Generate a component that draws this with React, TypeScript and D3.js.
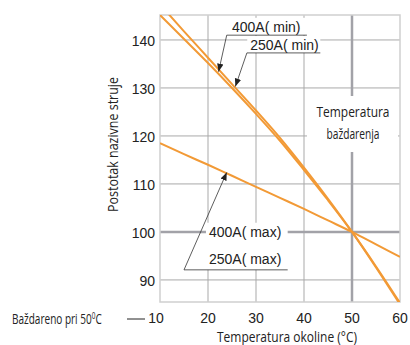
import React, { useEffect, useRef } from 'react';
import * as d3 from 'd3';

// ambient temperature (°C)
const temps = [10, 15, 20, 25, 30, 35, 40, 45, 50, 55, 60];
// percent of rated current
const min400 = [145.2, 140.2, 135.2, 130.0, 124.6, 119.0, 112.9, 106.6, 100, 92.8, 85.2];
const min250 = [147.4, 141.8, 136.3, 130.8, 125.3, 119.6, 113.4, 106.9, 100, 92.6, 84.9];
const maxBoth = [118.5, 116.2, 114.0, 111.7, 109.4, 107.1, 104.8, 102.4, 100, 97.4, 94.8];

const xTicks = [10, 20, 30, 40, 50, 60];
const yTicks = [90, 100, 110, 120, 130, 140];

// callouts, in data units: text anchor, underline (x1, x2, y), arrow tip
const callouts = [
  { text: ['400A( min)'], at: [25.0, 141.7], under: [23.9, 40.6, 141.0], tip: [22.2, 133.4] },
  { text: ['250A( min)'], at: [28.8, 137.9], under: [28.1, 43.4, 137.3], tip: [25.7, 130.3] },
  { text: ['400A( max)', '250A( max)'], at: [20.2, 99.0], under: [15.0, 36.6, 92.1], tip: [23.9, 112.4] },
];

const ORANGE = '#f29a36';
const NARROW = '"Open Sans", "Noto Sans", sans-serif';
const SANS = '"Liberation Sans", Arial, sans-serif';

const App: React.FC = () => {
  const svgRef = useRef<SVGSVGElement>(null);
  const width = 410;
  const height = 345;

  useEffect(() => {
    if (!svgRef.current) return;
    const svg = d3.select(svgRef.current);
    svg.selectAll('*').remove();

    const left = 160, right = 400, top = 15, bottom = 302;

    const x = d3.scaleLinear().domain([10, 60]).range([left, right]);
    const y = d3.scaleLinear().domain([85.4, 145.2]).range([bottom, top]);

    const defs = svg.append('defs');
    defs.append('clipPath').attr('id', 'plot-clip')
      .append('rect')
      .attr('x', left).attr('y', top)
      .attr('width', right - left).attr('height', bottom - top);
    defs.append('marker')
      .attr('id', 'arrow')
      .attr('markerUnits', 'userSpaceOnUse')
      .attr('viewBox', '0 0 10 10')
      .attr('refX', 10).attr('refY', 5)
      .attr('markerWidth', 8).attr('markerHeight', 8)
      .attr('orient', 'auto')
      .append('path')
      .attr('d', 'M0,1 L10,5 L0,9 z')
      .attr('fill', '#222');

    // condensed labels: squeeze a normal face to the width seen in the chart
    const narrowText = (g: d3.Selection<any, unknown, null, undefined>, s: string, len: number, size = 15) =>
      g.append('text')
        .attr('textLength', len)
        .attr('lengthAdjust', 'spacingAndGlyphs')
        .style('font-family', NARROW)
        .style('font-size', `${size}px`)
        .style('fill', '#222')
        .text(s);

    // grid
    const grid = svg.append('g');
    grid.selectAll('.vg')
      .data(xTicks.filter(d => d > 10 && d < 60 && d !== 50))
      .enter().append('line')
      .attr('x1', d => x(d)).attr('x2', d => x(d))
      .attr('y1', top).attr('y2', bottom)
      .attr('stroke', '#a9a9a9').attr('stroke-width', 1);
    grid.selectAll('.hg')
      .data(yTicks.filter(d => d !== 100))
      .enter().append('line')
      .attr('x1', left).attr('x2', right)
      .attr('y1', d => y(d)).attr('y2', d => y(d))
      .attr('stroke', '#a9a9a9').attr('stroke-width', 1);

    // calibration reference lines
    grid.append('line')
      .attr('x1', x(50)).attr('x2', x(50))
      .attr('y1', top).attr('y2', bottom)
      .attr('stroke', '#a2a2a8').attr('stroke-width', 2.5);
    grid.append('line')
      .attr('x1', left).attr('x2', right)
      .attr('y1', y(100)).attr('y2', y(100))
      .attr('stroke', '#a2a2a8').attr('stroke-width', 2.5);

    // frame
    svg.append('rect')
      .attr('x', left).attr('y', top)
      .attr('width', right - left).attr('height', bottom - top)
      .attr('fill', 'none')
      .attr('stroke', '#cfcfcf').attr('stroke-width', 1.5);

    // y tick labels
    svg.append('g').selectAll('text')
      .data(yTicks)
      .enter().append('text')
      .attr('x', left - 5)
      .attr('y', d => y(d))
      .attr('dy', '0.42em')
      .attr('text-anchor', 'end')
      .style('font-family', SANS)
      .style('font-size', '14px')
      .style('fill', '#222')
      .text(d => d);

    // x tick labels
    svg.append('g').selectAll('text')
      .data(xTicks)
      .enter().append('text')
      .attr('x', (d, i) => x(d) + (i === 0 ? -4 : 0))
      .attr('y', bottom + 21)
      .attr('text-anchor', 'middle')
      .style('font-family', SANS)
      .style('font-size', '14px')
      .style('fill', '#222')
      .text(d => d);

    // axis titles
    narrowText(svg, 'Postotak nazivne struje', 135)
      .attr('transform', `translate(118, ${(top + bottom) / 2 - 14}) rotate(-90)`)
      .attr('x', -67.5);

    narrowText(svg, 'Temperatura okoline (°C)', 140)
      .attr('x', 217)
      .attr('y', 342);

    // calibration note, one text squeezed as a whole
    const note = svg.append('text')
      .style('font-family', NARROW)
      .style('font-size', '14px')
      .style('fill', '#222');
    note.append('tspan').text('Baždareno pri 50');
    note.append('tspan').attr('dy', -5).style('font-size', '9px').text('0');
    note.append('tspan').attr('dy', 5).text('C');
    const nw = (note.node() as SVGTextElement).getBBox().width;
    note.attr('transform', `translate(12, ${bottom + 22}) scale(${90 / nw}, 1)`);
    svg.append('line')
      .attr('x1', left - 33).attr('x2', left - 15)
      .attr('y1', bottom + 17).attr('y2', bottom + 17)
      .attr('stroke', '#222').attr('stroke-width', 1);

    // calibration temperature label with white backing
    const calib = svg.append('g');
    calib.append('rect')
      .attr('x', x(50) - 45).attr('y', 96)
      .attr('width', 91).attr('height', 56)
      .attr('fill', '#fff');
    narrowText(calib, 'Temperatura', 73).attr('x', x(50) + 1 - 36.5).attr('y', 117);
    narrowText(calib, 'baždarenja', 53).attr('x', x(50) + 1 - 26.5).attr('y', 139);

    // curves
    const line = d3.line<number>()
      .x((_, i) => x(temps[i]))
      .y(d => y(d))
      .curve(d3.curveMonotoneX);

    const curves = svg.append('g').attr('clip-path', 'url(#plot-clip)');
    [min400, min250, maxBoth].forEach(series => {
      curves.append('path')
        .datum(series)
        .attr('fill', 'none')
        .attr('stroke', ORANGE)
        .attr('stroke-width', 2)
        .attr('d', line);
    });

    // callouts
    callouts.forEach(c => {
      const g = svg.append('g');
      const t = g.append('text')
        .style('font-family', SANS)
        .style('font-size', '14px')
        .style('fill', '#222');
      c.text.forEach((s, i) => {
        t.append('tspan')
          .attr('x', x(c.at[0]))
          .attr('y', y(c.at[1]) + i * 27)
          .text(s);
      });
      const bb = (t.node() as SVGTextElement).getBBox();
      const uy = y(c.under[2]);
      g.insert('rect', 'text')
        .attr('x', bb.x - 3).attr('y', bb.y - 1)
        .attr('width', x(c.under[1]) - bb.x + 3)
        .attr('height', uy - bb.y + 1)
        .attr('fill', '#fff');
      g.append('line')
        .attr('x1', x(c.under[0])).attr('x2', x(c.under[1]))
        .attr('y1', uy).attr('y2', uy)
        .attr('stroke', '#333').attr('stroke-width', 0.8);
      g.append('line')
        .attr('x1', x(c.under[0])).attr('y1', uy)
        .attr('x2', x(c.tip[0])).attr('y2', y(c.tip[1]))
        .attr('stroke', '#333').attr('stroke-width', 0.8)
        .attr('marker-end', 'url(#arrow)');
    });
  }, []);

  return (
    <svg
      ref={svgRef}
      width={width}
      height={height}
      style={{ position: 'absolute', left: 0, top: 0, background: '#fff' }}
    />
  );
};

export default App;
